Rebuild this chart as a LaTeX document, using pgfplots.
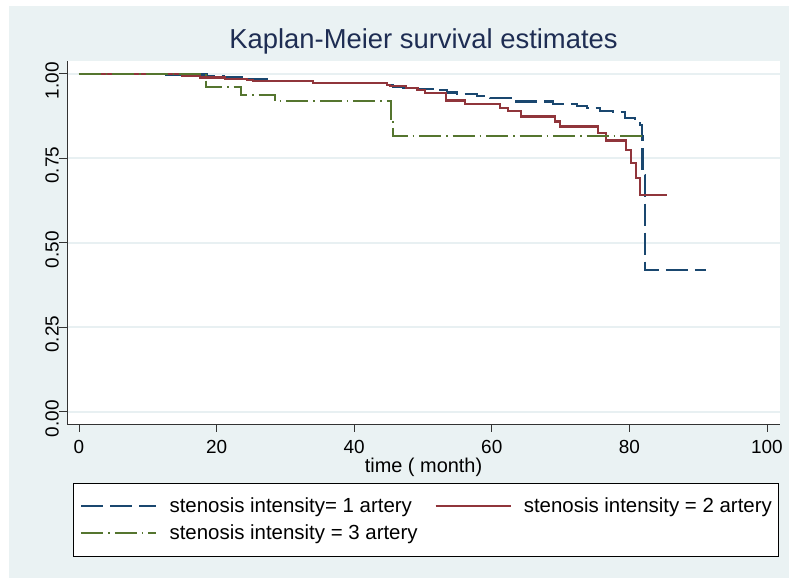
\documentclass[border=0pt]{standalone}
\usepackage{pgfplots}
\pgfplotsset{compat=1.18}
\usepackage{fontspec}
\setmainfont{Liberation Sans}
\definecolor{bgc}{RGB}{234,242,243}
\definecolor{sA}{RGB}{26,71,111}
\definecolor{sB}{RGB}{144,53,59}
\definecolor{sC}{RGB}{85,117,47}
\definecolor{titlec}{RGB}{30,45,83}
\definecolor{gridc}{RGB}{232,240,242}

\pgfplotstableread{
x y
0 1.000
12 0.998
18.6 0.993
21 0.990
23.9 0.985
27.3 0.979
34 0.974
44.7 0.967
45.6 0.962
47.1 0.958
49.1 0.955
51.5 0.951
53.5 0.945
55 0.940
57.8 0.935
59.7 0.928
63.1 0.918
68.9 0.911
72.4 0.906
73.8 0.898
75.7 0.891
77.6 0.887
79.4 0.869
80.8 0.861
81.5 0.849
81.8 0.815
81.9 0.701
82.3 0.420
91.2 0.420
}\one

\pgfplotstableread{
x y
0 1.000
15 0.995
17.6 0.989
21.2 0.985
24.4 0.982
25.3 0.979
34 0.972
44.8 0.967
45.2 0.964
47.5 0.958
49.2 0.953
50.3 0.943
53.3 0.921
56.1 0.911
61.2 0.898
62.4 0.889
64.3 0.874
69.2 0.859
69.9 0.844
75.5 0.824
76.6 0.803
79.5 0.775
80.2 0.736
81.0 0.691
81.5 0.642
85.5 0.642
}\two

\pgfplotstableread{
x y
0 1.000
18.5 0.962
23.6 0.937
28.5 0.920
45.4 0.868
45.7 0.817
82 0.817
}\three

\begin{document}
\begin{tikzpicture}[x=1bp,y=1bp]
\path[use as bounding box, fill=white] (0,0) rectangle (789,579);
\fill[bgc] (9,1) rectangle (789,573);
\begin{axis}[
  at={(67bp,155bp)}, anchor=south west,
  scale only axis, width=713bp, height=363bp,
  xmin=-1.74, xmax=101.9, ymin=-0.036, ymax=1.038,
  axis background/.style={fill=white},
  axis x line*=bottom, axis y line*=left,
  axis line style={color=black!80, line width=0.8bp},
  tick align=outside, major tick length=8bp,
  tick style={color=black!80, line width=0.8bp},
  xtick={0,20,40,60,80,100},
  ytick={0,0.25,0.5,0.75,1},
  yticklabels={0.00,0.25,0.50,0.75,1.00},
  /pgf/number format/assume math mode=true,
  ticklabel style={font=\fontsize{19}{22}\selectfont, color=black},
  yticklabel style={rotate=90, anchor=south, inner sep=0bp, xshift=-7bp},
  xticklabel style={inner sep=0bp, yshift=-8bp},
  ymajorgrids, grid style={color=gridc, line width=1.8bp},
  title={Kaplan-Meier survival estimates},
  title style={font=\fontsize{27.5}{30}\selectfont, color=titlec, at={(0.5,1)}, anchor=base, yshift=7bp},
  xlabel={time ( month)},
  xlabel style={font=\fontsize{20}{23}\selectfont, inner sep=0bp, yshift=-4bp},
  legend columns=2,
  legend image code/.code={\draw[#1] (0bp,0bp) -- (75bp,0bp);},
  legend cell align=left,
  legend style={at={(0.0084,-0.1625)}, anchor=north west, draw=black, line width=0.8bp,
    fill=white, font=\fontsize{20.5}{23}\selectfont, inner xsep=7bp, inner ysep=12bp,
    nodes={inner sep=0bp, text height=17bp, text depth=5bp},
    row sep=5bp,
    /tikz/every even column/.append style={column sep=17bp}},
]
\addplot[const plot, sA, line width=2.2bp, dash pattern=on 22bp off 7bp] table[x=x,y=y] {\one};
\addlegendentry{\hspace*{12bp}stenosis intensity= 1 artery}
\addplot[const plot, sB, line width=2.2bp] table[x=x,y=y] {\two};
\addlegendentry{\hspace*{12bp}stenosis intensity = 2 artery}
\addplot[const plot, sC, line width=2.2bp, dash pattern=on 22bp off 5bp on 1.5bp off 5bp] table[x=x,y=y] {\three};
\addlegendentry{\hspace*{12bp}stenosis intensity = 3 artery}
\end{axis}
\end{tikzpicture}
\end{document}
